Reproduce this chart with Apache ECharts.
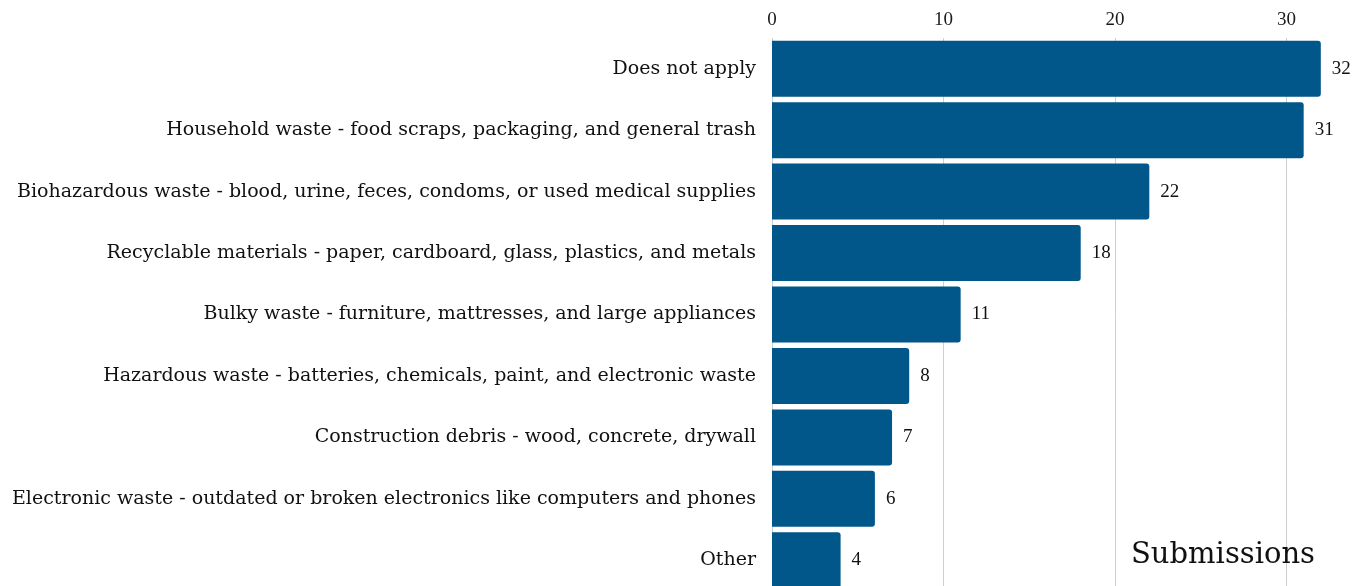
<!DOCTYPE html>
<html><head><meta charset="utf-8">
<script src="https://cdn.jsdelivr.net/npm/echarts@6/dist/echarts.min.js"></script>
<style>html,body{margin:0;padding:0;background:#fff}#c{width:1364px;height:586px}</style>
</head><body><div id="c"></div>
<script>
const categories = [
  "Does not apply",
  "Household waste - food scraps, packaging, and general trash",
  "Biohazardous waste - blood, urine, feces, condoms, or used medical supplies",
  "Recyclable materials - paper, cardboard, glass, plastics, and metals",
  "Bulky waste - furniture, mattresses, and large appliances",
  "Hazardous waste - batteries, chemicals, paint, and electronic waste",
  "Construction debris - wood, concrete, drywall",
  "Electronic waste - outdated or broken electronics like computers and phones",
  "Other"
];
const submissions = [32, 31, 22, 18, 11, 8, 7, 6, 4];
const axisTitle = "Submissions";

const font = "'Liberation Serif', 'DejaVu Serif', serif";
const font2 = "'DejaVu Serif', serif";
const chart = echarts.init(document.getElementById('c'), null, {renderer: 'canvas'});
chart.setOption({
  animation: false,
  title: {
    text: axisTitle, left: 1126, top: 536,
    textStyle: {fontFamily: font2, fontSize: 29, fontWeight: 'normal', color: '#111'}
  },
  grid: {left: 772, top: 38, width: 591.7, height: 553, containLabel: false, outerBoundsMode: 'none'},
  xAxis: {
    type: 'value', position: 'top', min: 0, max: 34.5, interval: 10,
    axisLine: {show: false}, axisTick: {show: false},
    axisLabel: {fontFamily: font, fontSize: 19, color: '#1a1a1a', margin: 8, showMaxLabel: false},
    splitLine: {showMaxLine: false, lineStyle: {color: '#cfcfcf', width: 1}}
  },
  yAxis: {
    type: 'category', data: categories, inverse: true,
    axisLine: {show: false}, axisTick: {show: false},
    axisLabel: {fontFamily: font2, fontSize: 19, color: '#111', margin: 16}
  },
  series: [{
    type: 'bar', data: submissions, barWidth: 56,
    itemStyle: {color: '#02578A', borderRadius: [0, 3, 3, 0]},
    label: {show: true, position: 'right', distance: 11, fontFamily: font, fontSize: 19, color: '#111'}
  }]
});
</script></body></html>
